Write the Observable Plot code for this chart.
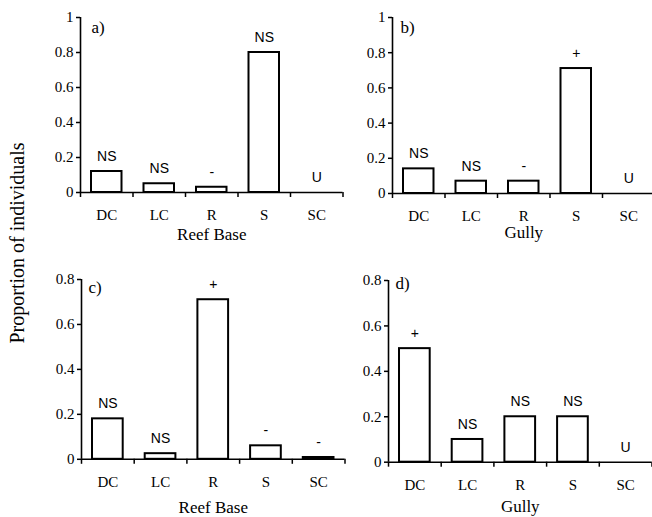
<!DOCTYPE html>
<html>
<head>
<meta charset="utf-8">
<script src="https://cdn.jsdelivr.net/npm/d3@7"></script>
<script src="https://cdn.jsdelivr.net/npm/@observablehq/plot@0.6"></script>
<style>
  html, body { margin: 0; padding: 0; background: white; overflow: hidden; }
  #wrap { position: relative; width: 652px; height: 517px; overflow: hidden; background: white; }
  #wrap > svg, #wrap > figure { position: absolute; margin: 0; }
  #ytitle { position: absolute; left: 17px; top: 243px; transform: translate(-50%, -50%) rotate(-90deg);
            font-family: "Liberation Serif", serif; font-size: 20px; white-space: nowrap; color: black; }
</style>
</head>
<body>
<div id="wrap"><div id="ytitle"></div></div>
<script>
// ---- data ----
const cats = ["DC", "LC", "R", "S", "SC"];
const valuesA = [0.12, 0.05, 0.03, 0.80, 0];
const labelsA = ["NS", "NS", "-", "NS", "U"];
const valuesB = [0.14, 0.07, 0.07, 0.71, 0];
const labelsB = ["NS", "NS", "-", "+", "U"];
const valuesC = [0.18, 0.025, 0.71, 0.06, 0.008];
const labelsC = ["NS", "NS", "+", "-", "-"];
const valuesD = [0.50, 0.10, 0.20, 0.20, 0];
const labelsD = ["+", "NS", "NS", "NS", "U"];
const yTicksTop = [0, 0.2, 0.4, 0.6, 0.8, 1];
const yTicksBottom = [0, 0.2, 0.4, 0.6, 0.8];
const panelNames = ["a)", "b)", "c)", "d)"];
const habitats = ["Reef Base", "Gully", "Reef Base", "Gully"];
const yTitle = "Proportion of individuals";

document.getElementById("ytitle").textContent = yTitle;

const ml = 50, mr = 10, mt = 12, mb = 62;

function panel(cfg) {
  const n = cats.length;
  const data = cats.map((c, i) => ({i, cat: c, v: cfg.values[i], lab: cfg.labels[i]}));
  const innerW = cfg.band * n;
  const innerH = cfg.y0 - cfg.yTop;
  const svg = Plot.plot({
    width: ml + innerW + mr,
    height: mt + innerH + mb,
    marginLeft: ml, marginRight: mr, marginTop: mt, marginBottom: mb,
    x: {domain: [0, n], label: null},
    y: {domain: [0, cfg.yTicks[cfg.yTicks.length - 1]], label: null},
    style: {background: "transparent", fontFamily: "Liberation Serif", fontSize: "15px", color: "black", overflow: "visible", maxWidth: "none"},
    marks: [
      Plot.rect(data, {x1: "i", x2: d => d.i + 1, y1: 0, y2: "v", insetLeft: 11, insetRight: 11,
                       fill: "white", stroke: "black", strokeWidth: 2}),
      Plot.ruleX([0], {stroke: "black", strokeWidth: 1.6}),
      Plot.ruleY([0], {stroke: "black", strokeWidth: 1.6}),
      Plot.axisY({ticks: cfg.yTicks, tickSize: 4, tickPadding: 3, tickFormat: d => String(d),
                  strokeWidth: 1.5, fontSize: 15, label: null}),
      Plot.axisX({ticks: d3.range(n + 1), tickSize: 5, tickFormat: () => "", strokeWidth: 1.5, label: null}),
      Plot.axisX({ticks: d3.range(n).map(i => i + 0.5), tickSize: 0, tickPadding: 17,
                  tickFormat: d => cats[Math.floor(d)], fontSize: 15, label: null}),
      Plot.text(data, {x: d => d.i + 0.5, y: "v", text: "lab", dy: -15,
                       fontFamily: "Liberation Sans", fontSize: 14, fill: "black"}),
      Plot.text([cfg.name], {frameAnchor: "top-left", dx: cfg.nameDx, dy: cfg.nameDy,
                             textAnchor: "start", lineAnchor: "middle", fontSize: 17}),
      Plot.text([cfg.xlabel], {frameAnchor: "bottom", dy: cfg.labelOffset, lineAnchor: "middle", fontSize: 17})
    ]
  });
  svg.style.left = (cfg.ax - ml) + "px";
  svg.style.top = (cfg.yTop - mt) + "px";
  document.getElementById("wrap").appendChild(svg);
}

panel({values: valuesA, labels: labelsA, yTicks: yTicksTop, name: panelNames[0], xlabel: habitats[0],
       ax: 80, yTop: 17, y0: 192, band: 52.5, nameDx: 11, nameDy: 10, labelOffset: 42});
panel({values: valuesB, labels: labelsB, yTicks: yTicksTop, name: panelNames[1], xlabel: habitats[1],
       ax: 392, yTop: 16.5, y0: 192.5, band: 52.5, nameDx: 8, nameDy: 10.5, labelOffset: 39});
panel({values: valuesC, labels: labelsC, yTicks: yTicksBottom, name: panelNames[2], xlabel: habitats[2],
       ax: 81, yTop: 278.5, y0: 458.3, band: 52.7, nameDx: 7, nameDy: 8.5, labelOffset: 48});
panel({values: valuesD, labels: labelsD, yTicks: yTicksBottom, name: panelNames[3], xlabel: habitats[3],
       ax: 388, yTop: 280, y0: 461.7, band: 52.7, nameDx: 7, nameDy: 3, labelOffset: 44});
</script>
</body>
</html>
